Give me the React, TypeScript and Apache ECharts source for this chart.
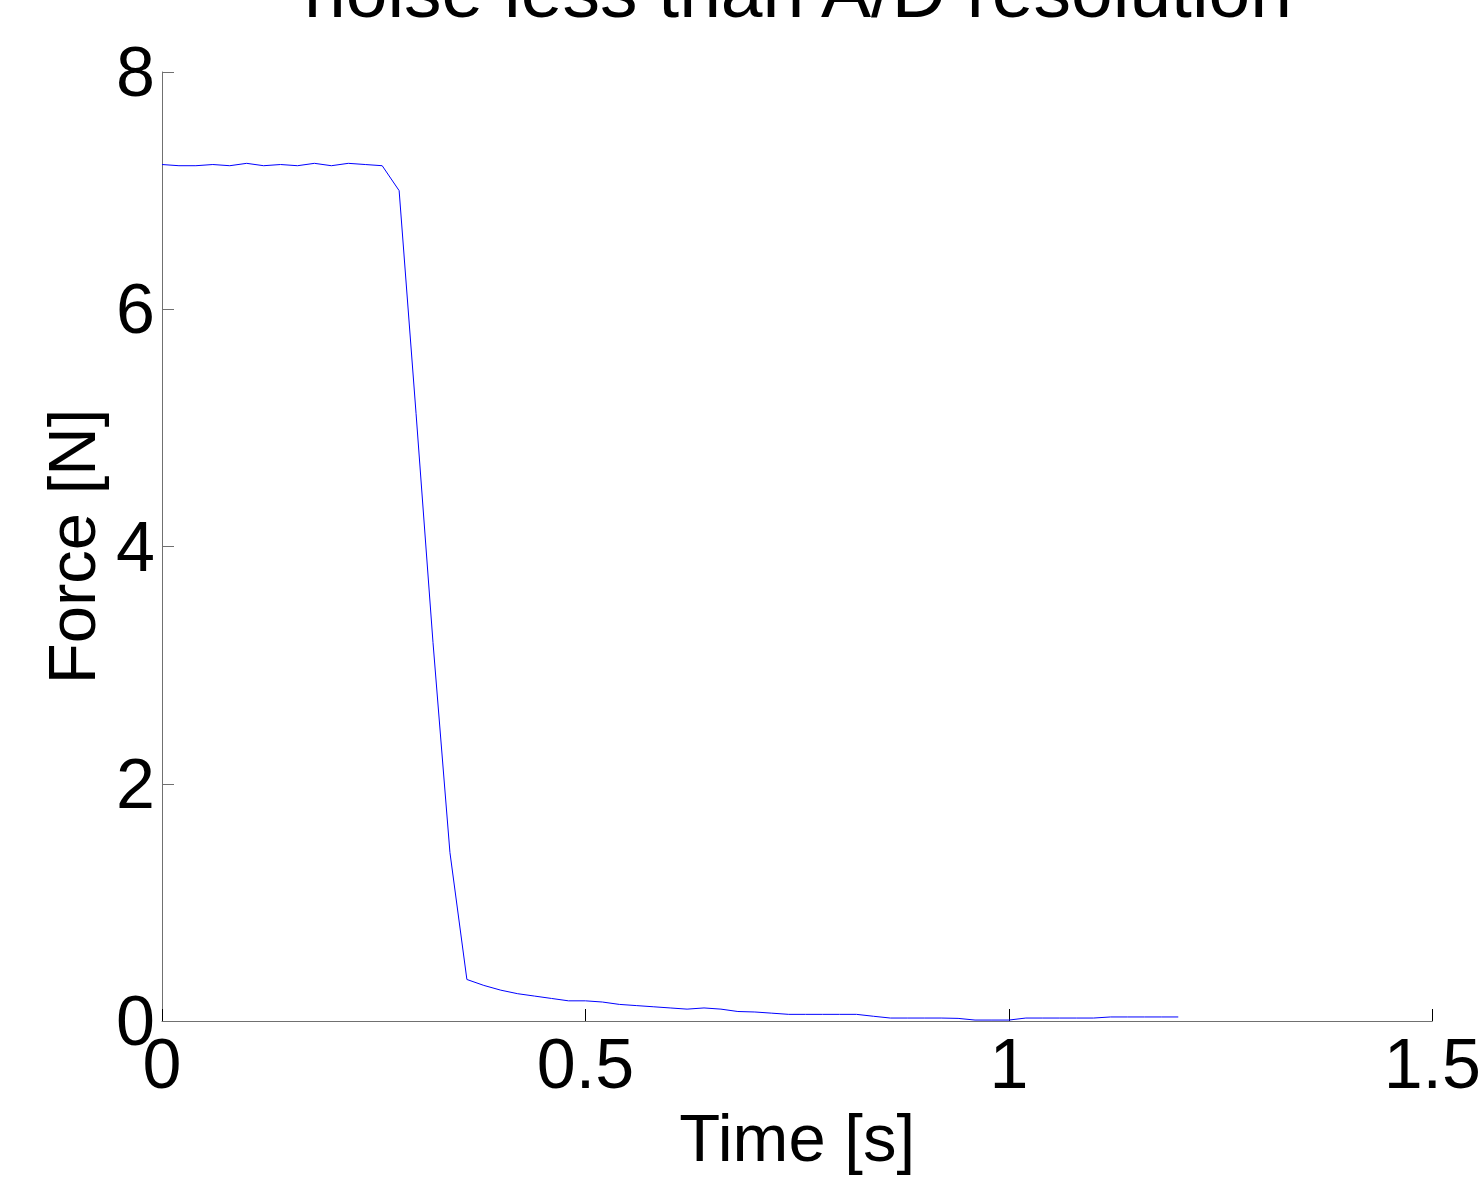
import React, { useEffect, useRef } from "react";
import * as echarts from "echarts";

const titleText = "noise less than A/D resolution";
const xAxisName = "Time [s]";
const yAxisName = "Force [N]";

const timeValues = [
  0, 0.02, 0.04, 0.06, 0.08, 0.1, 0.12, 0.14, 0.16, 0.18, 0.2, 0.22, 0.24, 0.26, 0.28, 0.3,
  0.32, 0.34, 0.36, 0.38, 0.4, 0.42, 0.44, 0.46, 0.48, 0.5, 0.52, 0.54, 0.56, 0.58, 0.6,
  0.62, 0.64, 0.66, 0.68, 0.7, 0.72, 0.74, 0.76, 0.78, 0.8, 0.82, 0.84, 0.86, 0.88, 0.9,
  0.92, 0.94, 0.96, 0.98, 1.0, 1.02, 1.04, 1.06, 1.08, 1.1, 1.12, 1.14, 1.16, 1.18, 1.2,
];

const forceValues = [
  7.22, 7.21, 7.21, 7.22, 7.21, 7.23, 7.21, 7.22, 7.21, 7.23, 7.21, 7.23, 7.22, 7.21, 7.0, 5.12,
  3.19, 1.42, 0.35, 0.3, 0.26, 0.23, 0.21, 0.19, 0.17, 0.17, 0.16, 0.14, 0.13, 0.12, 0.11,
  0.1, 0.11, 0.1, 0.08, 0.076, 0.066, 0.056, 0.056, 0.056, 0.056, 0.056, 0.04, 0.025, 0.025, 0.025,
  0.025, 0.022, 0.008, 0.008, 0.008, 0.025, 0.025, 0.025, 0.025, 0.025, 0.034, 0.034, 0.034, 0.034, 0.034,
];

const xTicks = [0, 0.5, 1, 1.5];
const yTicks = [0, 2, 4, 6, 8];

const FONT = "'Liberation Sans', Arial, sans-serif";

export default function App() {
  const ref = useRef<HTMLDivElement>(null);

  useEffect(() => {
    if (!ref.current) return;
    const chart = echarts.init(ref.current, undefined, { renderer: "svg" });
    const data = timeValues.map((t, i) => [t, forceValues[i]]);
    chart.setOption({
      animation: false,
      backgroundColor: "#ffffff",
      grid: { left: 162, right: 43, top: 72, bottom: 167, containLabel: false },
      graphic: [
        {
          type: "text",
          x: 798,
          y: 28,
          style: {
            text: titleText,
            fontFamily: FONT,
            fontSize: 75,
            fill: "#000",
            align: "center",
            verticalAlign: "bottom",
          },
        },
      ],
      xAxis: {
        type: "value",
        min: xTicks[0],
        max: xTicks[xTicks.length - 1],
        interval: 0.5,
        name: xAxisName,
        nameLocation: "middle",
        nameGap: 72,
        nameTextStyle: { fontFamily: FONT, fontSize: 67, color: "#000" },
        axisLine: { show: true, onZero: false, lineStyle: { color: "#707070", width: 1 } },
        axisTick: { show: true, inside: true, length: 12, lineStyle: { color: "#000" } },
        axisLabel: {
          fontFamily: FONT,
          fontSize: 70,
          color: "#000",
          margin: 8,
          formatter: (v: number) => String(v),
        },
        splitLine: { show: false },
      },
      yAxis: {
        type: "value",
        min: yTicks[0],
        max: yTicks[yTicks.length - 1],
        interval: 2,
        name: yAxisName,
        nameLocation: "middle",
        nameGap: 55,
        nameRotate: 90,
        nameTextStyle: { fontFamily: FONT, fontSize: 67, color: "#000" },
        axisLine: { show: true, onZero: false, lineStyle: { color: "#707070", width: 1 } },
        axisTick: { show: true, inside: true, length: 12, lineStyle: { color: "#707070" } },
        axisLabel: { fontFamily: FONT, fontSize: 70, color: "#000", margin: 7 },
        splitLine: { show: false },
      },
      series: [
        {
          type: "line",
          data,
          showSymbol: false,
          symbol: "none",
          lineStyle: { color: "#0000ff", width: 1 },
          clip: false,
        },
      ],
    });
    return () => chart.dispose();
  }, []);

  return (
    <div
      ref={ref}
      style={{ position: "fixed", left: 0, top: 0, width: 1484, height: 1188, background: "#fff" }}
    />
  );
}
